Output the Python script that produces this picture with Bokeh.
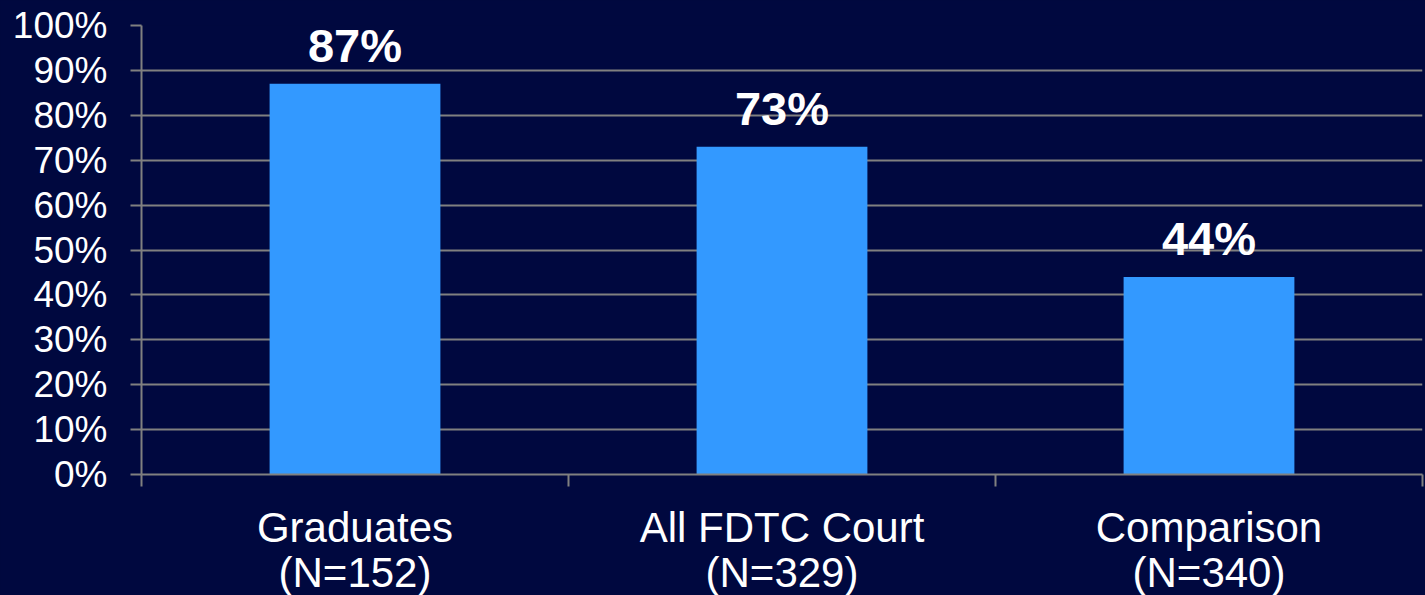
from bokeh.plotting import figure
from bokeh.models import ColumnDataSource, FixedTicker, LinearAxis, Range1d
from bokeh.core.properties import value
from bokeh.embed import file_html
from bokeh.resources import INLINE

categories = ["Graduates", "All FDTC Court", "Comparison"]
counts = [152, 329, 340]
percents = [87, 73, 44]
y_ticks = [0, 10, 20, 30, 40, 50, 60, 70, 80, 90, 100]

BG = "#00083F"
BAR = "#3399FF"
GRID = "#808080"
FONT = "Liberation Sans"

xs = [i + 0.5 for i in range(len(categories))]
source = ColumnDataSource(dict(
    x=xs,
    top=percents,
    label=[f"{v}%" for v in percents],
))

p = figure(frame_width=1281, frame_height=449, output_backend="svg", toolbar_location=None,
           x_range=Range1d(0, len(categories)), y_range=Range1d(0, 100),
           min_border_left=141, min_border_right=3, min_border_top=25, min_border_bottom=100,
           x_axis_location=None, y_axis_location=None)
p.background_fill_color = BG
p.border_fill_color = BG
p.outline_line_color = None

p.vbar(x="x", top="top", width=0.4, bottom=0, source=source, color=BAR, line_color=None)
p.text(x="x", y="top", text="label", source=source, text_align="center",
       text_baseline="alphabetic", y_offset=-38, text_color="white",
       text_font=value(FONT), text_font_style="bold", text_font_size="47px")

# y axis
yax = LinearAxis(ticker=FixedTicker(ticks=y_ticks),
                 major_label_overrides={t: f"{t}%" for t in y_ticks})
yax.axis_line_color = GRID
yax.axis_line_width = 2
yax.major_tick_line_color = GRID
yax.major_tick_line_width = 2
yax.major_tick_out = 11
yax.major_tick_in = 0
yax.minor_tick_line_color = None
yax.major_label_standoff = 23
yax.major_label_text_font = FONT
yax.major_label_text_font_size = "37px"
yax.major_label_text_color = "white"
p.add_layout(yax, "left")

# x axis: labels at centers, ticks between categories
xax = LinearAxis(ticker=FixedTicker(ticks=xs, minor_ticks=list(range(len(categories) + 1))),
                 major_label_overrides={x: f"{c}\n(N={n})" for x, c, n in zip(xs, categories, counts)})
xax.axis_line_color = GRID
xax.axis_line_width = 2
xax.major_tick_line_color = None
xax.major_tick_out = 0
xax.major_tick_in = 0
xax.minor_tick_line_color = GRID
xax.minor_tick_line_width = 2
xax.minor_tick_out = 12
xax.minor_tick_in = 0
xax.major_label_standoff = 17
xax.major_label_text_font = FONT
xax.major_label_text_font_size = "42px"
xax.major_label_text_color = "white"
xax.major_label_text_line_height = 0.96
p.add_layout(xax, "below")

p.xgrid.grid_line_color = None
p.ygrid.ticker = FixedTicker(ticks=y_ticks)
p.ygrid.grid_line_color = GRID
p.ygrid.grid_line_width = 2

html = file_html(p, INLINE)
html = html.replace("<head>", "<head><style>html, body { background: #00083F; overflow: hidden; }</style>", 1)
open("out.html", "w").write(html)
